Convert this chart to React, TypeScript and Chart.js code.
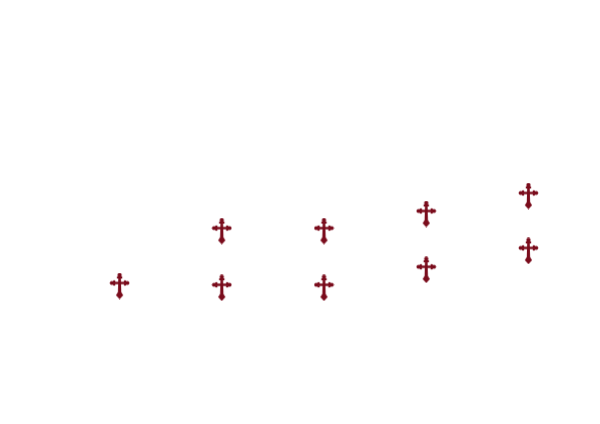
import React, { useEffect, useRef } from 'react';
import { Chart, registerables } from 'chart.js';

Chart.register(...registerables);

const categories = ['1', '2', '3', '4', '5'];
const lowerSeries = [6, 5.9, 5.9, 6.9, 7.95];
const upperSeries = [null, 9.05, 9.05, 10, 11];
const crossColor = '#7a0c1c';

// point marker: cross with trefoil ends and a pointed foot
function makeCross() {
  const c = document.createElement('canvas');
  c.width = 21;
  c.height = 27;
  const g = c.getContext('2d')!;
  g.fillStyle = crossColor;
  const dot = (x: number, y: number, r: number) => {
    g.beginPath();
    g.arc(x, y, r, 0, Math.PI * 2);
    g.fill();
  };
  // stem, flared towards the foot
  g.beginPath();
  g.moveTo(9.3, 2);
  g.lineTo(11.7, 2);
  g.lineTo(12.2, 21);
  g.lineTo(8.8, 21);
  g.closePath();
  g.fill();
  // arm
  g.fillRect(2.5, 9.3, 16, 2.4);
  // trefoil top
  dot(10.5, 2.4, 2.1);
  dot(8.9, 4.9, 1.2);
  dot(12.1, 4.9, 1.2);
  // trefoil left and right
  dot(2.8, 10.5, 2.1);
  dot(5.1, 8.9, 1.2);
  dot(5.1, 12.1, 1.2);
  dot(18.2, 10.5, 2.1);
  dot(15.9, 8.9, 1.2);
  dot(15.9, 12.1, 1.2);
  // foot
  g.beginPath();
  g.moveTo(10.5, 26.8);
  g.lineTo(6.9, 22.8);
  g.lineTo(9, 19.5);
  g.lineTo(12, 19.5);
  g.lineTo(14.1, 22.8);
  g.closePath();
  g.fill();
  return c;
}

export default function App() {
  const chartRef = useRef<HTMLCanvasElement>(null);

  useEffect(() => {
    if (!chartRef.current) return;
    const cross = makeCross();
    const chart = new Chart(chartRef.current, {
      type: 'line',
      data: {
        labels: categories,
        datasets: [
          { label: 'lower', data: lowerSeries, showLine: false, pointStyle: cross, pointRadius: 10 },
          { label: 'upper', data: upperSeries, showLine: false, pointStyle: cross, pointRadius: 10 },
        ],
      },
      options: {
        responsive: false,
        animation: false,
        layout: { padding: { left: 68.5, right: 20.5, top: 34, bottom: 30 } },
        plugins: { legend: { display: false }, tooltip: { enabled: false } },
        scales: {
          x: { display: false, offset: true },
          y: { display: false, min: 0, max: 20 },
        },
      },
    });
    return () => chart.destroy();
  }, []);

  return (
    <div style={{ position: 'fixed', left: 0, top: 0, width: 600, height: 424, background: '#fff' }}>
      <canvas ref={chartRef} width={600} height={424} style={{ display: 'block' }}></canvas>
    </div>
  );
}
